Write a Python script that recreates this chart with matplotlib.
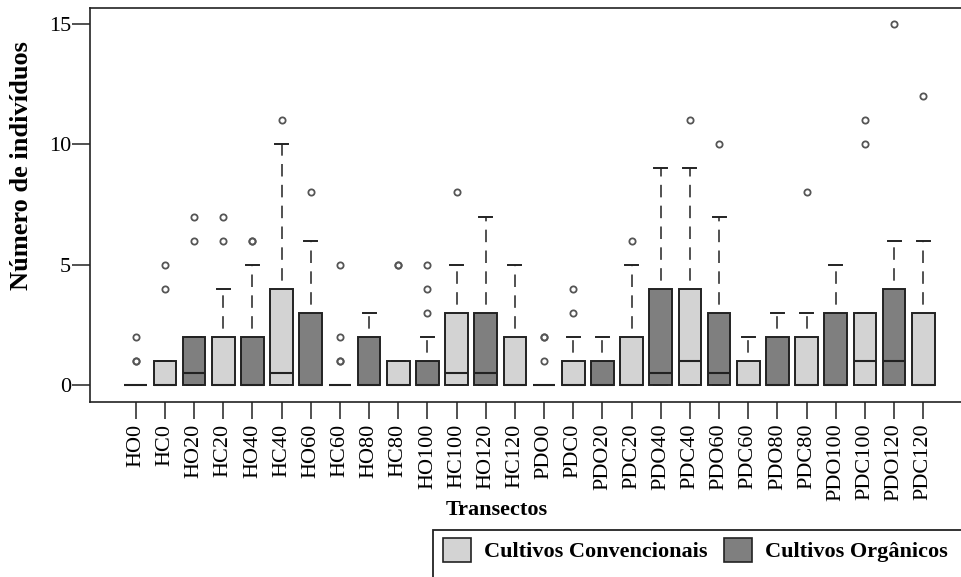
import matplotlib
matplotlib.use('Agg')
import matplotlib.pyplot as plt
from matplotlib.patches import Patch, Rectangle

plt.rcParams['font.family'] = ['Liberation Serif', 'DejaVu Serif']
plt.rcParams['lines.scale_dashes'] = False

# transectos (O = orgânico, C = convencional)
transectos = ['HO0', 'HC0', 'HO20', 'HC20', 'HO40', 'HC40', 'HO60', 'HC60',
              'HO80', 'HC80', 'HO100', 'HC100', 'HO120', 'HC120',
              'PDO0', 'PDC0', 'PDO20', 'PDC20', 'PDO40', 'PDC40', 'PDO60',
              'PDC60', 'PDO80', 'PDC80', 'PDO100', 'PDC100', 'PDO120', 'PDC120']
primeiro_quartil = [0] * 28
mediana = [0, 0, 0.5, 0, 0, 0.5, 0, 0, 0, 0, 0, 0.5, 0.5, 0,
           0, 0, 0, 0, 0.5, 1, 0.5, 0, 0, 0, 0, 1, 1, 0]
terceiro_quartil = [0, 1, 2, 2, 2, 4, 3, 0, 2, 1, 1, 3, 3, 2,
                    0, 1, 1, 2, 4, 4, 3, 1, 2, 2, 3, 3, 4, 3]
bigode_inf = [0] * 28
bigode_sup = [0, 1, 2, 4, 5, 10, 6, 0, 3, 1, 2, 5, 7, 5,
              0, 2, 2, 5, 9, 9, 7, 2, 3, 3, 5, 3, 6, 6]
outliers = [[1, 1, 2], [4, 5], [6, 7], [6, 7], [6, 6], [11], [8], [1, 1, 2, 5],
            [], [5, 5], [3, 4, 5], [8], [], [],
            [1, 2, 2], [3, 4], [], [6], [], [11], [10], [],
            [], [8], [], [10, 11], [15], [12]]

claro = '#d3d3d3'
escuro = '#7f7f7f'
linha = '#222222'

stats = []
for i, nome in enumerate(transectos):
    stats.append({'label': nome, 'q1': primeiro_quartil[i], 'med': mediana[i],
                  'q3': terceiro_quartil[i], 'whislo': bigode_inf[i],
                  'whishi': bigode_sup[i], 'fliers': outliers[i]})

fig = plt.figure(figsize=(9.62, 5.77), dpi=100)
ax = fig.add_axes([90 / 962, 175 / 577, 882 / 962, 394 / 577])

bp = ax.bxp(stats, positions=range(1, 29), widths=0.78, capwidths=0.45,
            patch_artist=True,
            boxprops=dict(edgecolor=linha, linewidth=1.4),
            medianprops=dict(color=linha, linewidth=1.5),
            whiskerprops=dict(color=linha, linewidth=1.1, linestyle=(9, (9, 6))),
            capprops=dict(color=linha, linewidth=1.4),
            flierprops=dict(marker='o', markerfacecolor='none',
                            markeredgecolor='#555555', markersize=4.5,
                            markeredgewidth=1.3))

for caixa, nome in zip(bp['boxes'], transectos):
    caixa.set_facecolor(escuro if 'O' in nome else claro)

ax.set_xlim(-0.567, 29.67)
ax.set_ylim(-0.706, 15.665)
ax.set_xticks(range(1, 29))
ax.set_xticklabels(transectos, rotation=90, fontsize=16)
ax.set_yticks([0, 5, 10, 15])
ax.set_yticklabels(['0', '5', '10', '15'], fontsize=16)
ax.tick_params(axis='x', length=12, width=1.1, pad=3.5, color=linha)
ax.tick_params(axis='y', length=13, width=1.1, pad=0.5, color=linha)
ax.spines['right'].set_visible(False)
for lado in ['left', 'top', 'bottom']:
    ax.spines[lado].set_linewidth(1.2)
    ax.spines[lado].set_color(linha)

ax.set_ylabel('Número de indivíduos', fontsize=19, fontweight='bold')
ax.yaxis.label.set_va('center')
ax.yaxis.set_label_coords(-0.0775, 0.599)
ax.set_xlabel('Transectos', fontsize=16, fontweight='bold')
ax.xaxis.label.set_va('center')
ax.xaxis.set_label_coords(0.4615, -0.274)

# legenda com moldura aberta à direita e embaixo
fig.patches.append(Rectangle((433 / 962, -0.1), 0.6, (577 - 530) / 577 + 0.1,
                             transform=fig.transFigure, fill=False,
                             edgecolor=linha, linewidth=1.3))
fig.legend(handles=[Patch(facecolor=claro, edgecolor=linha, linewidth=1.2,
                          label='Cultivos Convencionais'),
                    Patch(facecolor=escuro, edgecolor=linha, linewidth=1.2,
                          label='Cultivos Orgânicos')],
           loc='upper left', bbox_to_anchor=(443 / 962, 1 - 538 / 577), ncol=2,
           frameon=False, borderpad=0, borderaxespad=0, handlelength=1.25,
           handleheight=1.25, handletextpad=0.6, columnspacing=0.75,
           prop={'weight': 'bold', 'size': 16})

fig.savefig('out.png', dpi=100)
